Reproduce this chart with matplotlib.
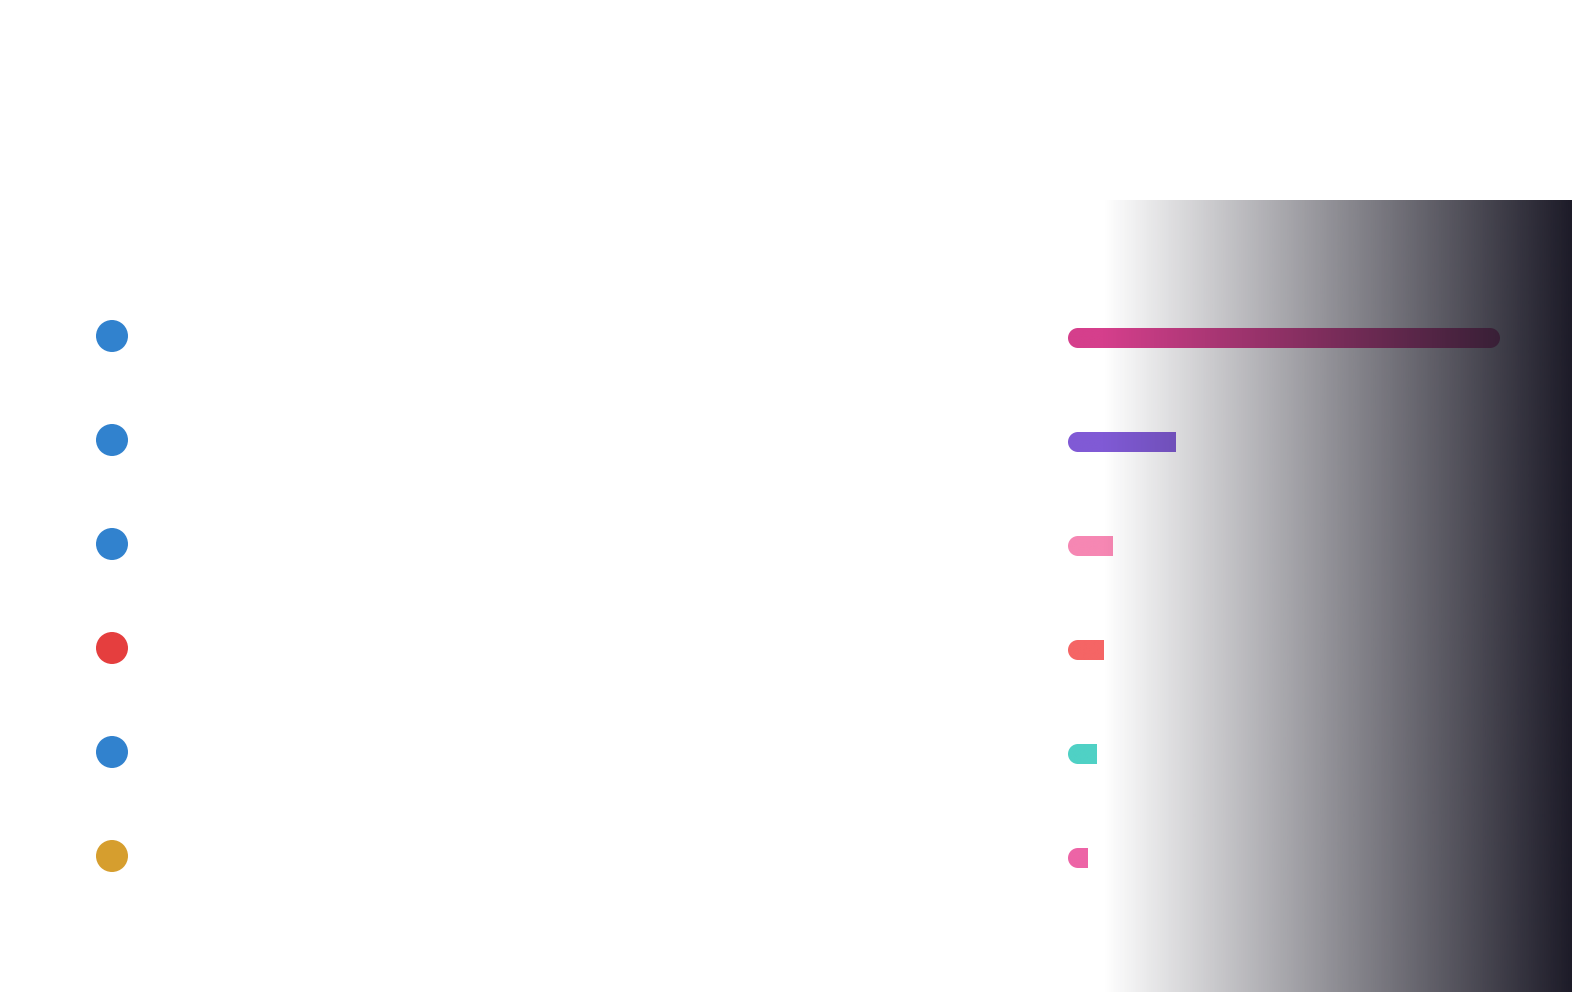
import numpy as np
import matplotlib
matplotlib.use('Agg')
import matplotlib.pyplot as plt
from matplotlib.patches import Ellipse, Rectangle
from matplotlib.colors import to_rgb

# data (bar lengths relative to the longest bar)
values = [100, 25, 10.2, 8.3, 6.5, 4.6]
bar_colors = ['#d53f8c', '#805ad5', '#f687b3', '#f56565', '#4fd1c5', '#ed64a6']
dot_colors = ['#3182ce', '#3182ce', '#3182ce', '#e53e3e', '#3182ce', '#d69e2e']
x_max = 100

W, H = 1572, 992
DARK = np.array(to_rgb('#1c1a27'))
FADE_X0 = 1103  # where the dark panel starts fading in
BAR_X0, BAR_W = 1068, 432

fig = plt.figure(figsize=(W / 100, H / 100), dpi=100)
fig.patch.set_facecolor('white')

# background: dark panel fading in from the left
bg = fig.add_axes([0, 0, 1, 1])
bg.set_xlim(0, W)
bg.set_ylim(H, 0)
bg.axis('off')
ramp = np.zeros((1, 512, 4))
ramp[..., :3] = DARK
ramp[..., 3] = np.linspace(0, 1, 512)
bg.imshow(ramp, extent=(FADE_X0, W, H, 200), aspect='auto', interpolation='bilinear')
bg.set_xlim(0, W)
bg.set_ylim(H, 0)

# bars
row_px = 104
n = len(values)
ax = fig.add_axes([BAR_X0 / W, 1 - (286 + n * row_px) / H, BAR_W / W, n * row_px / H])
ax.axis('off')
bar_h = 20 / row_px
rx = 10 * x_max / BAR_W
ry = bar_h / 2
# bars darken along with the panel behind them
s = np.linspace(0, 1, 512)
f = np.clip((BAR_X0 + s * BAR_W - FADE_X0) / (W - FADE_X0), 0, 1)
for i, (v, c) in enumerate(zip(values, bar_colors)):
    base = np.array(to_rgb(c))
    cols = base[None, :] * (1 - f[:, None]) + DARK[None, :] * f[:, None]
    img = cols[None, :, :]
    pieces = [Ellipse((rx, i), 2 * rx, 2 * ry)]
    if v >= x_max:
        pieces.append(Rectangle((rx, i - ry), v - 2 * rx, 2 * ry))
        pieces.append(Ellipse((v - rx, i), 2 * rx, 2 * ry))
    else:
        pieces.append(Rectangle((rx, i - ry), v - rx, 2 * ry))
    for p in pieces:
        p.set_transform(ax.transData)
        im = ax.imshow(img, extent=(0, x_max, i + ry, i - ry), aspect='auto',
                       interpolation='bilinear')
        im.set_clip_path(p)
ax.set_xlim(0, x_max)
ax.set_ylim(n - 0.5, -0.5)

# status dots
cax = fig.add_axes([96 / W, 1 - (284 + n * row_px) / H, 32 / W, n * row_px / H])
cax.axis('off')
cax.scatter(np.full(n, 0.5), np.arange(n), s=(32 * 0.72) ** 2, c=dot_colors,
            linewidths=0)
cax.set_xlim(0, 1)
cax.set_ylim(n - 0.5, -0.5)

fig.savefig('out.png', dpi=100)
